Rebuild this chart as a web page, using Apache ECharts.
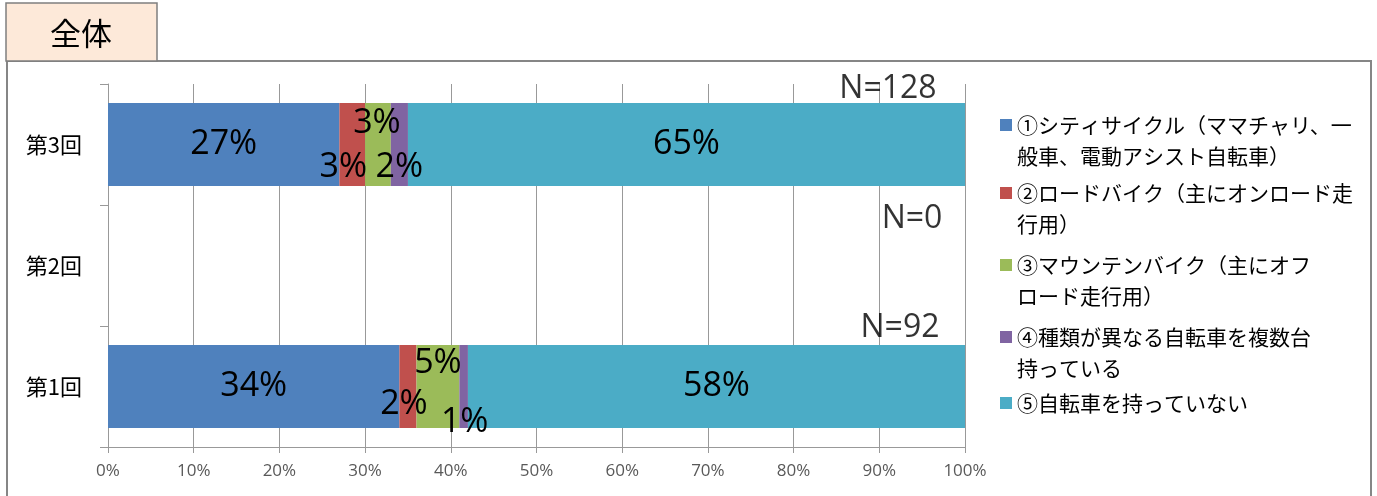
<!DOCTYPE html>
<html>
<head>
<meta charset="utf-8">
<script src="https://cdn.jsdelivr.net/npm/echarts@6/dist/echarts.min.js"></script>
<style>
  html, body { margin: 0; padding: 0; background: #fff; }
  #chart { width: 1377px; height: 496px; }
</style>
</head>
<body>
<div id="chart"></div>
<script>
// Survey rounds (bottom to top on the category axis)
const categories = ['第1回', '第2回', '第3回'];

// Share of respondents per answer, in percent (第2回 had no responses)
const cityCycle   = [34, null, 27];
const roadBike    = [2,  null, 3];
const mountain    = [5,  null, 3];
const multiple    = [1,  null, 2];
const noBicycle   = [58, null, 65];

// Number of respondents per round
const respondents = [92, 0, 128];

// Percentage axis ticks
const xMin = 0, xMax = 100, xStep = 10;

const seriesNames = [
  '①シティサイクル（ママチャリ、一般車、電動アシスト自転車）',
  '②ロードバイク（主にオンロード走行用）',
  '③マウンテンバイク（主にオフロード走行用）',
  '④種類が異なる自転車を複数台持っている',
  '⑤自転車を持っていない'
];
// Wrapped legend text
const legendLines = [
  ['①シティサイクル（ママチャリ、一', '般車、電動アシスト自転車）'],
  ['②ロードバイク（主にオンロード走', '行用）'],
  ['③マウンテンバイク（主にオフ', 'ロード走行用）'],
  ['④種類が異なる自転車を複数台', '持っている'],
  ['⑤自転車を持っていない']
];
const seriesValues = [cityCycle, roadBike, mountain, multiple, noBicycle];
const colors = ['#4F81BD', '#C0504D', '#9BBB59', '#8064A2', '#4BACC6'];

// Label nudges per series, per category index (small segments)
const labelOffsets = [
  [[0, 0], null, [0, 0]],
  [[-4, 18], null, [-9, 23]],
  [[0, -23], null, [-1, -21]],
  [[1, 36], null, [0, 23]],
  [[0, 0], null, [0, 0]]
];
// Offsets of the N= labels relative to the right end of each row
const nLabelOffsets = [[-65, -59], [-53, -47], [-77, -56]];

const numFont = '"Open Sans", "Noto Sans", sans-serif';
const jpFont = '"Noto Sans CJK JP", sans-serif';
const lineH = 31;
const legendCenters = [125, 193, 265, 337, 403];

const barSeries = seriesNames.map((name, s) => ({
  name: name,
  type: 'bar',
  stack: 'total',
  barWidth: 83,
  itemStyle: { color: colors[s] },
  label: {
    show: true,
    position: 'inside',
    formatter: '{c}%',
    color: '#000',
    fontFamily: numFont,
    fontSize: 34
  },
  emphasis: { disabled: true },
  data: seriesValues[s].map((v, i) => v == null ? '-' : {
    value: v,
    label: { offset: labelOffsets[s][i] || [0, 0] }
  })
}));

const nSeries = {
  type: 'scatter',
  symbol: 'circle',
  symbolSize: 1,
  itemStyle: { color: 'transparent' },
  silent: true,
  z: 5,
  label: {
    show: true,
    position: 'inside',
    color: '#000',
    fontFamily: numFont,
    fontSize: 32,
    formatter: p => 'N=' + respondents[p.dataIndex]
  },
  data: categories.map((c, i) => ({
    value: [xMax, c],
    label: { offset: nLabelOffsets[i] }
  }))
};

const legends = seriesNames.map((name, s) => {
  const lines = legendLines[s];
  const multi = lines.length > 1;
  return {
    orient: 'vertical',
    left: 1000,
    top: legendCenters[s] - (multi ? 1.5 : 0.5) * lineH,
    padding: 0,
    icon: 'rect',
    itemWidth: 12,
    itemHeight: 12,
    selectedMode: false,
    data: [name],
    formatter: () => (multi ? '\n' : '') + lines.join('\n'),
    textStyle: {
      color: '#000',
      fontFamily: jpFont,
      fontSize: 21,
      lineHeight: lineH
    }
  };
});

const chart = echarts.init(document.getElementById('chart'));
chart.setOption({
  animation: false,
  backgroundColor: '#fff',
  graphic: [
    {
      type: 'rect',
      shape: { x: 7, y: 61, width: 1364, height: 450 },
      style: { fill: 'none', stroke: '#868686', lineWidth: 2 },
      z: 0
    },
    {
      type: 'rect',
      shape: { x: 6, y: 3, width: 151, height: 58 },
      style: { fill: '#FDE9D9', stroke: '#7F7F7F', lineWidth: 1.5 },
      z: 1
    },
    {
      type: 'text',
      x: 81, y: 33,
      style: {
        text: '全体',
        fill: '#000',
        font: '31px "Noto Sans CJK JP", sans-serif',
        align: 'center',
        verticalAlign: 'middle'
      },
      z: 2
    }
  ],
  legend: legends,
  grid: { left: 108, right: 412, top: 84, bottom: 49, outerBoundsMode: 'none' },
  xAxis: {
    type: 'value',
    min: xMin, max: xMax, interval: xStep,
    axisLine: { show: true, lineStyle: { color: '#999', width: 1 } },
    axisTick: { show: true, length: 6, lineStyle: { color: '#999' } },
    splitLine: { show: true, lineStyle: { color: '#999', width: 1 } },
    axisLabel: {
      formatter: '{value}%',
      color: '#595959',
      fontFamily: numFont,
      fontSize: 17,
      margin: 16
    }
  },
  yAxis: {
    type: 'category',
    data: categories,
    axisLine: { show: true, lineStyle: { color: '#999', width: 1 } },
    axisTick: { show: true, length: 8, alignWithLabel: false, lineStyle: { color: '#999' } },
    splitLine: { show: false },
    axisLabel: {
      color: '#000',
      fontFamily: jpFont,
      fontSize: 22,
      margin: 26
    }
  },
  series: barSeries.concat([nSeries])
});
</script>
</body>
</html>
